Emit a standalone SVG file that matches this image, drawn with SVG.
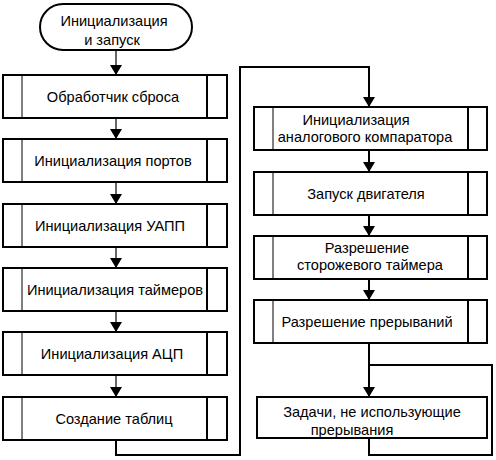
<svg xmlns="http://www.w3.org/2000/svg" width="496" height="460" viewBox="0 0 496 460">
<defs>
<marker id="ah" viewBox="0 0 10 12" markerWidth="10" markerHeight="12" refX="10" refY="6" orient="auto" markerUnits="userSpaceOnUse">
<path d="M0,0 L10,6 L0,12 z" fill="#000"/>
</marker>
</defs>
<style>
.box{fill:#fff;stroke:#000;stroke-width:2}
.in1{stroke:#000;stroke-width:1}
.in2{stroke:#000;stroke-width:2}
.c1{fill:none;stroke:#000;stroke-width:1.2}
.c2{fill:none;stroke:#000;stroke-width:2}
text{font-family:"Liberation Sans",Arial,sans-serif;font-size:14.6px;fill:#000;text-anchor:middle}
</style>
<rect width="496" height="460" fill="#fff"/>
<g id="connectors">
<line class="c1" x1="116" y1="50" x2="116" y2="75" marker-end="url(#ah)"/>
<line class="c1" x1="116" y1="118" x2="116" y2="139" marker-end="url(#ah)"/>
<line class="c1" x1="116" y1="182" x2="116" y2="204" marker-end="url(#ah)"/>
<line class="c1" x1="116" y1="247" x2="116" y2="268" marker-end="url(#ah)"/>
<line class="c1" x1="116" y1="311" x2="116" y2="332" marker-end="url(#ah)"/>
<line class="c1" x1="116" y1="375" x2="116" y2="397" marker-end="url(#ah)"/>
<polyline class="c2" points="116,440 116,455 240,455 240,67 369,67 369,107" marker-end="url(#ah)"/>
<line class="c2" x1="369" y1="150" x2="369" y2="172" marker-end="url(#ah)"/>
<line class="c2" x1="369" y1="215" x2="369" y2="236" marker-end="url(#ah)"/>
<line class="c2" x1="369" y1="279" x2="369" y2="300" marker-end="url(#ah)"/>
<line class="c2" x1="369" y1="343" x2="369" y2="397" marker-end="url(#ah)"/>
<polyline class="c2" points="369,438 369,455 492,455 492,365 369,365"/>
</g>
<g id="start">
<rect class="box" x="40" y="4" width="152" height="46" rx="23" ry="23"/>
<text x="114" y="26">Инициализация</text>
<text x="112" y="45">и запуск</text>
</g>
<g id="reset">
<rect class="box" x="3" y="75" width="224" height="43"/>
<line class="in1" x1="22" y1="75" x2="22" y2="118"/><line class="in2" x1="207" y1="75" x2="207" y2="118"/>
<text x="113" y="102">Обработчик сброса</text>
</g>
<g id="ports">
<rect class="box" x="3" y="139" width="224" height="43"/>
<line class="in1" x1="22" y1="139" x2="22" y2="182"/><line class="in2" x1="207" y1="139" x2="207" y2="182"/>
<text x="113" y="166">Инициализация портов</text>
</g>
<g id="uart">
<rect class="box" x="3" y="204" width="224" height="43"/>
<line class="in1" x1="22" y1="204" x2="22" y2="247"/><line class="in2" x1="207" y1="204" x2="207" y2="247"/>
<text x="110" y="231">Инициализация УАПП</text>
</g>
<g id="timers">
<rect class="box" x="3" y="268" width="224" height="43"/>
<line class="in1" x1="22" y1="268" x2="22" y2="311"/><line class="in2" x1="207" y1="268" x2="207" y2="311"/>
<text x="115" y="295">Инициализация таймеров</text>
</g>
<g id="adc">
<rect class="box" x="3" y="332" width="224" height="43"/>
<line class="in1" x1="22" y1="332" x2="22" y2="375"/><line class="in2" x1="207" y1="332" x2="207" y2="375"/>
<text x="112" y="359">Инициализация АЦП</text>
</g>
<g id="tables">
<rect class="box" x="3" y="397" width="224" height="43"/>
<line class="in1" x1="22" y1="397" x2="22" y2="440"/><line class="in2" x1="207" y1="397" x2="207" y2="440"/>
<text x="114" y="424">Создание таблиц</text>
</g>
<g id="comparator">
<rect class="box" x="254" y="107" width="233" height="43"/>
<line class="in1" x1="273" y1="107" x2="273" y2="150"/><line class="in2" x1="468" y1="107" x2="468" y2="150"/>
<text x="356" y="125">Инициализация</text>
<text x="365" y="142">аналогового компаратора</text>
</g>
<g id="motor">
<rect class="box" x="254" y="172" width="233" height="43"/>
<line class="in1" x1="273" y1="172" x2="273" y2="215"/><line class="in2" x1="468" y1="172" x2="468" y2="215"/>
<text x="366" y="199">Запуск двигателя</text>
</g>
<g id="watchdog">
<rect class="box" x="254" y="236" width="233" height="43"/>
<line class="in1" x1="273" y1="236" x2="273" y2="279"/><line class="in2" x1="468" y1="236" x2="468" y2="279"/>
<text x="367" y="253">Разрешение</text>
<text x="370" y="270">сторожевого таймера</text>
</g>
<g id="interrupts">
<rect class="box" x="254" y="300" width="233" height="43"/>
<line class="in1" x1="273" y1="300" x2="273" y2="343"/><line class="in2" x1="468" y1="300" x2="468" y2="343"/>
<text x="367" y="327">Разрешение прерываний</text>
</g>
<g id="tasks">
<rect class="box" x="257" y="397" width="230" height="41"/>
<text x="372" y="417">Задачи, не использующие</text>
<text x="352" y="435">прерывания</text>
</g>
</svg>
